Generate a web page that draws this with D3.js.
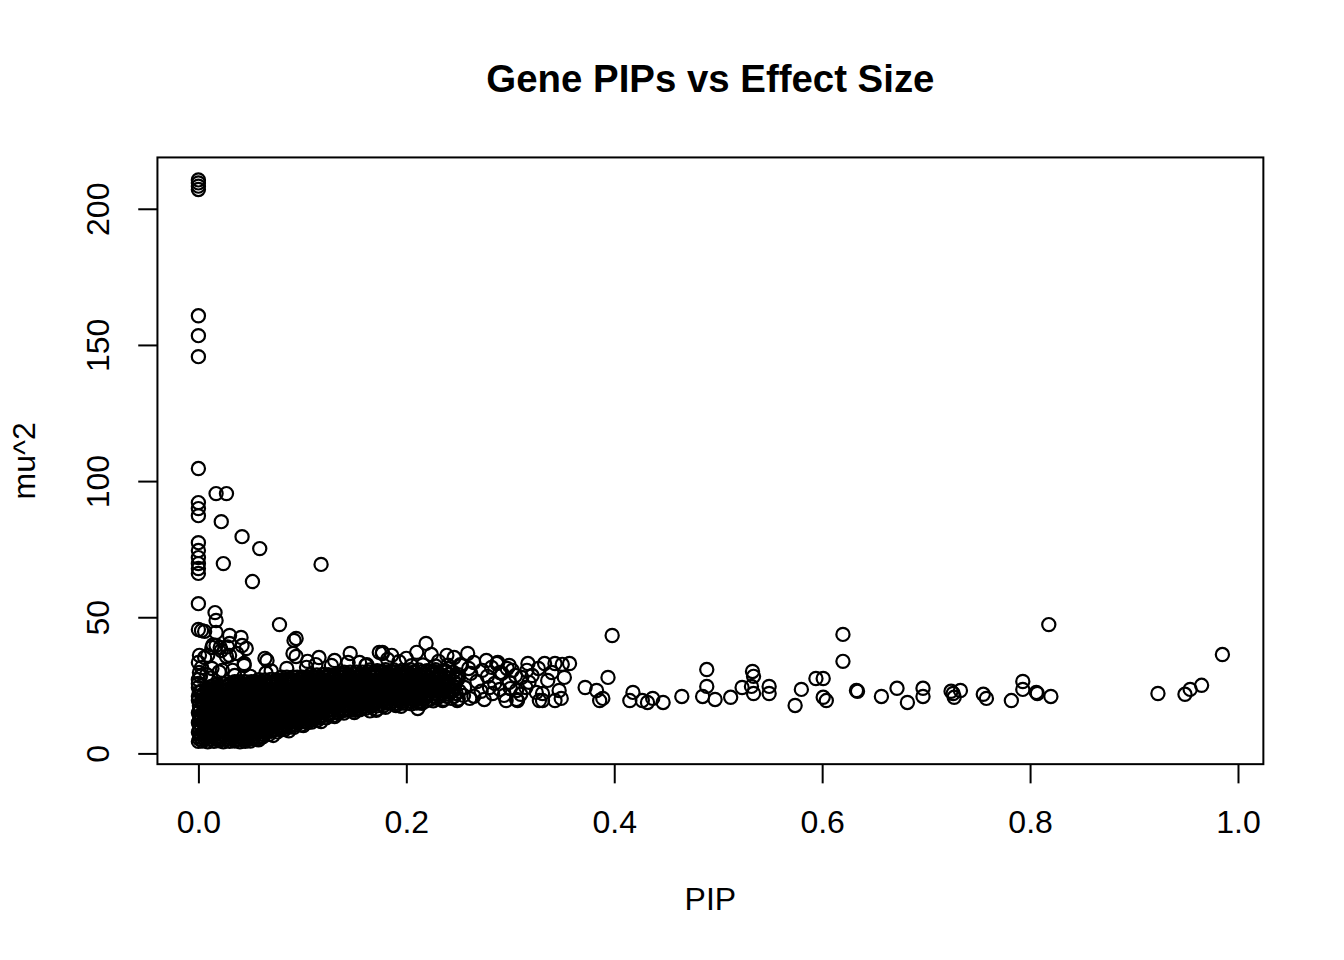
<!DOCTYPE html>
<html>
<head>
<meta charset="utf-8">
<script src="https://cdn.jsdelivr.net/npm/d3@7"></script>
<style>
  body { margin: 0; background: #fff; }
  svg text { font-family: "Liberation Sans", Arial, Helvetica, sans-serif; fill: #000; }
</style>
</head>
<body>
<svg id="chart" width="1344" height="960"></svg>
<script>
// [PIP, mu^2] pairs

// genes with PIP ~ 0 and a huge effect
var highZero = [
  [0,210.6],[0,209.5],[0,208.3],[0,207.1],[0,160.7],[0,153.4],[0,145.7],[0,104.6],
  [.017,95.4],[.027,95.4],[0,92.1],[0,89.9],[0,87.3],[.022,85.1],[.042,79.6],[.059,75.2],
  [0,77.4],[0,74.5],[0,71.9],[0,69.7],[0,67.9],[0,66.1],[.024,69.7],[.118,69.4],[.052,63.1],
  [0,55.0],[.016,51.7],[.017,48.8],[.078,47.3]
];

// the solid cloud, read as rows of mu^2
var denseCore = [
  [0,4.4],[.004,4.5],[.009,4.3],[.015,4.4],[.02,4.6],[.024,4.3],[.03,4.4],[.035,4.5],[.04,4.3],[.045,4.4],[.05,4.5],
  [.002,6.0],[.007,6.2],[.012,6.1],[.018,5.9],[.022,6.3],[.027,6.0],[.033,6.1],[.038,6.2],[.042,5.9],[.047,6.1],[.053,6.2],[.058,6.0],[.062,6.1],
  [0,7.8],[.005,8.0],[.01,7.9],[.016,7.7],[.02,8.1],[.025,7.9],[.031,7.8],[.035,8.0],[.04,7.9],[.046,8.1],[.05,7.8],[.055,7.9],[.061,8.0],[.065,7.8],[.07,8.1],[.076,7.9],
  [.003,9.6],[.007,9.4],[.012,9.7],[.017,9.6],[.023,9.5],[.027,9.8],[.032,9.6],[.037,9.4],[.043,9.7],[.047,9.6],[.052,9.5],[.057,9.7],[.063,9.6],[.067,9.4],[.072,9.8],[.078,9.6],[.082,9.5],[.087,9.7],[.092,9.6],
  [0,11.3],[.005,11.5],[.01,11.4],[.015,11.2],[.021,11.5],[.025,11.4],[.03,11.6],[.035,11.3],[.04,11.4],[.046,11.5],[.05,11.3],[.055,11.4],[.06,11.6],[.066,11.4],[.07,11.2],[.075,11.5],[.08,11.4],[.086,11.3],[.09,11.5],[.095,11.4],[.1,11.6],[.105,11.3],[.109,11.5],
  [.002,13.1],[.008,13.0],[.012,13.2],[.017,13.1],[.022,12.9],[.028,13.2],[.032,13.1],[.037,13.0],[.042,13.3],[.048,13.1],[.052,12.9],[.057,13.2],[.062,13.1],[.068,13.0],[.072,13.2],[.077,13.1],[.082,12.9],[.088,13.2],[.092,13.1],[.097,13.0],[.102,13.3],[.108,13.1],[.112,12.9],[.117,13.2],[.123,13.1],
  [0,14.9],[.005,14.7],[.01,15.0],[.015,14.9],[.02,14.8],[.026,15.0],[.03,14.9],[.035,14.7],[.04,15.1],[.045,14.9],[.05,14.8],[.056,15.0],[.06,14.9],[.065,14.7],[.07,15.0],[.075,14.9],[.08,14.8],[.086,15.1],[.09,14.9],[.095,14.7],[.1,15.0],[.105,14.9],[.11,14.8],[.116,15.0],[.12,14.9],[.125,14.7],[.13,15.0],[.135,14.9],[.14,14.8],
  [.002,16.6],[.007,16.4],[.013,16.7],[.017,16.6],[.022,16.5],[.027,16.8],[.032,16.6],[.038,16.4],[.042,16.7],[.047,16.6],[.052,16.5],[.058,16.7],[.062,16.6],[.067,16.4],[.072,16.8],[.077,16.6],[.083,16.5],[.087,16.7],[.092,16.6],[.097,16.4],[.102,16.7],[.107,16.6],[.113,16.5],[.117,16.8],[.122,16.6],[.127,16.4],[.132,16.7],[.137,16.6],[.143,16.5],[.147,16.7],[.152,16.6],[.157,16.4],[.161,16.6],
  [.004,18.4],[.01,18.3],[.015,18.5],[.02,18.4],[.025,18.2],[.03,18.5],[.035,18.4],[.04,18.3],[.046,18.6],[.05,18.4],[.055,18.2],[.06,18.5],[.065,18.4],[.07,18.3],[.076,18.5],[.08,18.4],[.085,18.2],[.09,18.5],[.095,18.4],[.1,18.3],[.106,18.6],[.11,18.4],[.115,18.2],[.12,18.5],[.125,18.4],[.13,18.3],[.136,18.5],[.14,18.4],[.145,18.2],[.15,18.5],[.155,18.4],[.16,18.3],[.166,18.6],[.17,18.4],[.175,18.2],[.18,18.5],[.185,18.4],[.19,18.3],[.196,18.5],[.2,18.4],[.205,18.2],[.21,18.5],[.215,18.4],
  [.007,20.1],[.012,20.0],[.017,20.2],[.022,20.1],[.028,19.9],[.032,20.2],[.037,20.1],[.042,20.0],[.048,20.3],[.052,20.1],[.057,19.9],[.062,20.2],[.067,20.1],[.072,20.0],[.078,20.2],[.082,20.1],[.087,19.9],[.092,20.2],[.097,20.1],[.102,20.0],[.108,20.3],[.112,20.1],[.117,19.9],[.122,20.2],[.127,20.1],[.132,20.0],[.138,20.2],[.142,20.1],[.147,19.9],[.152,20.2],[.157,20.1],[.162,20.0],[.168,20.3],[.172,20.1],[.177,19.9],[.182,20.2],[.187,20.1],[.192,20.0],[.198,20.2],[.202,20.1],[.207,19.9],[.212,20.2],[.217,20.1],[.223,20.0],[.229,20.2],[.236,19.9],[.243,20.2],[.25,20.0],
  [.005,21.9],[.01,21.8],[.015,22.0],[.02,21.9],[.025,21.7],[.03,22.0],[.035,21.9],[.04,21.8],[.046,22.1],[.05,21.9],[.055,21.7],[.06,22.0],[.065,21.9],[.07,21.8],[.076,22.0],[.08,21.9],[.085,21.7],[.09,22.0],[.095,21.9],[.1,21.8],[.106,22.1],[.11,21.9],[.115,21.7],[.12,22.0],[.125,21.9],[.13,21.8],[.136,22.0],[.14,21.9],[.145,21.7],[.15,22.0],[.155,21.9],[.16,21.8],[.166,22.1],[.17,21.9],[.175,21.7],[.18,22.0],[.185,21.9],[.19,21.8],[.196,22.0],[.2,21.9],[.205,21.7],[.21,22.0],[.215,21.9],[.221,21.8],[.228,22.1],[.234,21.9],[.241,21.7],[.248,22.0],
  [.008,23.6],[.012,23.5],[.017,23.7],[.022,23.6],[.028,23.4],[.032,23.7],[.037,23.6],[.042,23.5],[.048,23.8],[.052,23.6],[.057,23.4],[.062,23.7],[.067,23.6],[.072,23.5],[.078,23.7],[.082,23.6],[.087,23.4],[.092,23.7],[.097,23.6],[.102,23.5],[.108,23.8],[.112,23.6],[.117,23.4],[.122,23.7],[.127,23.6],[.132,23.5],[.138,23.7],[.142,23.6],[.147,23.4],[.152,23.7],[.157,23.6],[.162,23.5],[.168,23.8],[.172,23.6],[.177,23.4],[.182,23.7],[.187,23.6],[.192,23.5],[.198,23.7],[.202,23.6],[.207,23.4],[.212,23.7],[.218,23.6],[.225,23.5],[.231,23.8],[.238,23.6],[.246,23.4],
  [.018,25.3],[.024,25.5],[.03,25.4],[.035,25.2],[.04,25.5],[.046,25.4],[.05,25.3],[.055,25.6],[.06,25.4],[.065,25.2],[.07,25.5],[.075,25.4],[.08,25.3],[.086,25.5],[.09,25.4],[.095,25.2],[.1,25.5],[.105,25.4],[.11,25.3],[.116,25.6],[.12,25.4],[.125,25.2],[.13,25.5],[.135,25.4],[.14,25.3],[.146,25.5],[.15,25.4],[.155,25.2],[.16,25.5],[.165,25.4],[.17,25.3],[.176,25.6],[.18,25.4],[.185,25.2],[.19,25.5],[.195,25.4],[.2,25.3],[.206,25.5],[.211,25.4],[.217,25.2],[.224,25.5],[.232,25.4],[.24,25.3],[.247,25.5],
  [.058,27.1],[.064,27.0],[.07,27.2],[.075,27.1],[.08,26.9],[.085,27.2],[.09,27.1],[.096,27.0],[.1,27.3],[.105,27.1],[.11,26.9],[.115,27.2],[.12,27.1],[.126,27.0],[.13,27.2],[.135,27.1],[.14,26.9],[.145,27.2],[.15,27.1],[.156,27.0],[.16,27.3],[.165,27.1],[.17,26.9],[.175,27.2],[.18,27.1],[.186,27.0],[.19,27.2],[.195,27.1],[.2,26.9],[.206,27.2],[.212,27.1],[.219,27.0],[.227,27.2],[.234,27.0],[.241,27.3],[.249,27.1],
  [.108,28.9],[.114,28.8],[.12,29.0],[.125,28.9],[.13,28.7],[.136,29.0],[.14,28.9],[.145,28.8],[.15,29.1],[.156,28.9],[.16,28.7],[.165,29.0],[.17,28.9],[.176,28.8],[.18,29.0],[.185,28.9],[.19,28.7],[.196,29.0],[.2,28.9],[.206,28.8],[.212,29.0],[.219,28.9],[.226,29.0],[.233,28.8],[.241,29.1],[.25,28.9],
  [.165,30.6],[.172,30.4],[.18,30.7],[.188,30.6],[.196,30.5],[.204,30.7],[.212,30.6],[.22,30.4],[.228,30.7],[.237,30.5],
  [.205,32.2],[.216,32.5],[.228,32.1],[.24,32.4],[.252,32.6]
];

// more of the cloud, between the rows above: one mu^2 per row, then its PIPs
var coreRowMu = [5.3, 7.0, 8.8, 10.5, 12.3, 14.0, 15.8, 17.5, 19.3, 21.0, 22.8, 24.5, 26.3, 28.0, 29.8];
var coreRowPips = [
  [.001,.006,.011,.017,.021,.027,.032,.036,.043,.047,.052,.056],
  [.002,.008,.013,.017,.023,.028,.033,.039,.043,.048,.054,.059,.063,.068],
  [.001,.006,.012,.017,.022,.028,.032,.038,.044,.048,.053,.059,.064,.068,.074,.079,.083],
  [.002,.007,.012,.018,.023,.028,.033,.039,.044,.048,.054,.059,.064,.069,.074,.08,.084,.089,.094,.099],
  [.001,.006,.012,.017,.022,.028,.033,.037,.043,.049,.053,.058,.064,.069,.073,.079,.085,.089,.094,.099,.105,.11,.115],
  [.002,.008,.013,.017,.023,.028,.033,.039,.043,.048,.054,.059,.063,.069,.074,.079,.084,.089,.095,.099,.104,.11,.114,.119,.125,.13],
  [.001,.006,.012,.017,.022,.028,.032,.038,.043,.048,.053,.059,.064,.068,.073,.079,.084,.089,.094,.1,.104,.109,.115,.12,.125,.13,.135,.141,.146,.151],
  [.001,.005,.011,.015,.02,.026,.03,.034,.04,.045,.05,.056,.06,.064,.07,.075,.08,.086,.09,.094,.1,.105,.11,.116,.12,.124,.13,.135,.14,.146,.15,.154,.16,.166,.172,.178],
  [.003,.008,.013,.018,.022,.028,.033,.038,.043,.047,.053,.058,.063,.068,.072,.078,.083,.088,.093,.097,.103,.108,.113,.118,.122,.128,.133,.138,.143,.147,.153,.158,.163,.168,.172,.178,.183,.188,.193,.197,.203,.208,.213,.219,.226],
  [.004,.009,.014,.019,.024,.03,.034,.039,.044,.049,.054,.06,.064,.069,.074,.079,.084,.09,.094,.099,.104,.109,.114,.12,.124,.129,.134,.139,.144,.15,.154,.159,.164,.169,.174,.18,.184,.189,.194,.199,.204,.21,.214,.22,.226,.232,.239,.246],
  [.003,.008,.013,.018,.023,.027,.033,.038,.043,.048,.053,.057,.063,.068,.073,.078,.083,.087,.093,.098,.103,.108,.113,.117,.123,.128,.133,.138,.143,.147,.153,.158,.163,.168,.173,.177,.183,.188,.193,.198,.203,.207,.213,.218,.224,.231,.237,.244,.251],
  [.012,.017,.022,.027,.033,.038,.042,.047,.053,.058,.062,.067,.073,.078,.082,.087,.093,.098,.102,.107,.113,.118,.122,.127,.133,.138,.142,.147,.153,.158,.162,.167,.173,.178,.182,.187,.193,.198,.202,.207,.212,.218,.225,.232,.239,.246],
  [.035,.04,.045,.051,.055,.06,.065,.071,.075,.08,.085,.091,.095,.1,.105,.111,.115,.12,.125,.131,.135,.14,.145,.151,.155,.16,.165,.171,.175,.18,.185,.191,.195,.2,.205,.21,.217,.224,.231,.238,.246],
  [.08,.085,.091,.095,.1,.106,.11,.115,.121,.125,.13,.136,.14,.145,.151,.155,.16,.166,.17,.175,.181,.185,.19,.196,.2,.205,.211,.215,.222,.23,.238,.247],
  [.14,.146,.152,.158,.164,.17,.176,.182,.188,.194,.2,.207,.214,.221,.229,.237,.245]
];

// loose circles round the edge of the cloud
var coreFringe = [
  [0,45.5],[.003,45.1],[.006,44.8],[.017,44.4],[.03,43.3],[.041,42.6],[.094,42.2],[.046,38.5],[.03,40.4],[.017,39.6],
  [.013,38.9],[.022,37.8],[.03,36.0],[.037,36.7],[.009,36.0],[.001,36.0],[0,33.4],[.013,31.2],[.023,30.5],[.033,30.5],
  [.044,32.3],[.066,34.1],[.091,36.7],[.092,41.5],[.116,35.2],[.131,34.1],[.105,33.8],[.146,36.7],[.174,37.1],[.155,33.4],
  [.162,32.6],[.014,39.8],[.021,38.9],[.028,39.1],[.042,39.6],[.006,35.2],[.027,35.6],[.044,33.0],[.064,34.9],[.094,35.6],
  [.104,31.6],[.113,32.6],[.128,32.3],[.144,33.4],[.161,32.3],[.177,36.7],[.182,34.5],[.193,33.7],[.001,29.7],[0,27.1],
  [0,25.7],[0,24.2],[.001,22.6],[0,21.0],[0,19.5],[.002,28.3],[.003,31.5],[.008,28.9],[.012,27.7],[.05,28.3],
  [.035,28.6],[.07,30.3],[.085,31.2],[.065,29.5],[.02,29.9],
  [.058,5.0],[.072,6.6],[.087,8.3],[.101,10.2],[.118,11.7],[.131,13.5],[.15,15.0],[.165,15.6],[.18,16.9],[.195,17.3],
  [.155,16.0],[.172,16.3],[.171,15.8],[.19,17.6],[.211,16.5],[.213,18.7],[.235,19.4],[.249,19.4],[.261,20.2]
];

// thinning out between PIP 0.17 and 0.36
var midSpread = [
  [.177,37.1],[.219,40.4],[.21,37.1],[.186,36.0],[.2,34.9],[.239,36.0],[.246,35.2],[.259,36.7],[.265,33.4],[.282,31.6],
  [.273,30.5],[.28,24.2],[.283,22.0],[.296,19.4],[.294,21.3],[.299,26.1],[.299,32.3],[.311,27.9],[.317,33.0],[.321,28.6],
  [.318,26.1],[.325,22.4],[.328,19.4],[.331,22.0],[.333,33.0],[.343,33.0],[.35,32.7],[.357,33.0],[.352,27.9],[.347,23.1],
  [.349,20.2],[.343,19.4],[.331,19.4],[.232,28.6],[.241,31.2],[.25,27.5],[.256,24.2],[.262,29.4],[.268,26.4],[.272,22.8],
  [.278,28.3],[.285,25.7],[.29,29.7],[.255,21.3],[.245,23.1],[.265,21.0],[.226,30.1],[.236,26.1],[.29,23.5],[.275,19.8],
  [.3,23.8],[.305,28.6],[.31,21.7],[.297,31.2],[.288,33.4],[.277,34.1],[.253,32.3],[.231,33.8],[.224,36.3],[.26,31.2],
  [.306,19.8],[.315,24.2],[.336,26.8],[.34,29.7],[.327,31.2],[.287,33.0],[.292,29.4],[.302,30.5],[.306,23.1],[.316,30.5],
  [.307,19.4]
];

// sparse genes with high PIP
var tailPoints = [
  [.372,24.2],[.383,23.1],[.386,19.4],[.389,20.2],[.394,27.9],[.398,43.3],[.415,19.4],[.418,22.4],[.427,19.4],[.432,18.7],
  [.437,20.2],[.447,18.7],[.465,20.9],[.489,30.8],[.489,24.6],[.485,20.9],[.497,19.8],[.512,20.6],[.523,24.2],[.533,30.1],
  [.534,28.3],[.532,24.6],[.534,22.0],[.549,24.6],[.549,22.0],[.574,17.6],[.58,23.5],[.594,27.5],[.601,27.5],[.601,20.6],
  [.604,19.4],[.62,43.7],[.62,33.8],[.633,23.1],[.634,22.8],[.657,20.9],[.672,23.9],[.682,18.7],[.697,23.9],[.697,20.9],
  [.724,22.8],[.726,22.0],[.727,20.6],[.733,23.1],[.755,21.7],[.758,20.2],[.782,19.4],[.793,26.4],[.793,23.5],[.806,22.4],
  [.807,22.0],[.82,20.9],[.818,47.3],[.923,22.0],[.949,21.7],[.954,23.5],[.965,25.0],[.985,36.3]
];

var xTicks = [0, 0.2, 0.4, 0.6, 0.8, 1.0];
var yTicks = [0, 50, 100, 150, 200];

var width = 1344, height = 960;
var lineH = 38.4; // one margin line at 192 dpi
var margin = { top: 4.1 * lineH, right: 2.1 * lineH, bottom: 5.1 * lineH, left: 4.1 * lineH };

var coreRows = [];
coreRowMu.forEach(function(mu, i) {
  coreRowPips[i].forEach(function(p) { coreRows.push([p, mu]); });
});

var allPoints = [].concat(highZero, denseCore, coreRows, coreFringe, midSpread, tailPoints);

// base-graphics style 4% padding on both ends
var pad = function(ext) {
  var r = ext[1] - ext[0];
  return [ext[0] - 0.04 * r, ext[1] + 0.04 * r];
};

var x = d3.scaleLinear()
  .domain(pad(d3.extent(allPoints, function(d) { return d[0]; })))
  .range([margin.left, width - margin.right]);
var y = d3.scaleLinear()
  .domain(pad(d3.extent(allPoints, function(d) { return d[1]; })))
  .range([height - margin.bottom, margin.top]);

var svg = d3.select("#chart");

svg.append("rect")
  .attr("width", width).attr("height", height)
  .attr("fill", "#fff");

// points
svg.append("g")
  .selectAll("circle")
  .data(allPoints)
  .enter()
    .append("circle")
      .attr("cx", function(d) { return x(d[0]); })
      .attr("cy", function(d) { return y(d[1]); })
      .attr("r", 6.6)
      .attr("fill", "none")
      .attr("stroke", "#000")
      .attr("stroke-width", 2.2);

// x axis
var xAxis = svg.append("g")
  .attr("transform", "translate(0," + (height - margin.bottom) + ")")
  .call(d3.axisBottom(x).tickValues(xTicks).tickSize(lineH / 2).tickFormat(d3.format(".1f")));
xAxis.select(".domain").remove();
xAxis.selectAll(".tick line").attr("stroke", "#000").attr("stroke-width", 2);
xAxis.selectAll(".tick text")
  .attr("font-size", 32)
  .attr("font-family", null)
  .attr("y", 68.8)
  .attr("dy", null);

// y axis, labels parallel to the axis
var yAxis = svg.append("g")
  .attr("transform", "translate(" + margin.left + ",0)")
  .call(d3.axisLeft(y).tickValues(yTicks).tickSize(lineH / 2));
yAxis.select(".domain").remove();
yAxis.selectAll(".tick line").attr("stroke", "#000").attr("stroke-width", 2);
yAxis.selectAll(".tick text")
  .attr("font-size", 32)
  .attr("font-family", null)
  .attr("text-anchor", "middle")
  .attr("transform", "rotate(-90)")
  .attr("x", 0)
  .attr("y", -48.6)
  .attr("dy", null);

// box
svg.append("rect")
  .attr("x", margin.left)
  .attr("y", margin.top)
  .attr("width", width - margin.left - margin.right)
  .attr("height", height - margin.top - margin.bottom)
  .attr("fill", "none")
  .attr("stroke", "#000")
  .attr("stroke-width", 2);

// titles
var midX = (margin.left + width - margin.right) / 2;
var midY = (margin.top + height - margin.bottom) / 2;

svg.append("text")
  .attr("x", midX)
  .attr("y", 92)
  .attr("text-anchor", "middle")
  .attr("font-size", 38.4)
  .attr("font-weight", "bold")
  .text("Gene PIPs vs Effect Size");

svg.append("text")
  .attr("x", midX)
  .attr("y", 910)
  .attr("text-anchor", "middle")
  .attr("font-size", 32)
  .text("PIP");

svg.append("text")
  .attr("transform", "translate(35," + midY + ")rotate(-90)")
  .attr("text-anchor", "middle")
  .attr("font-size", 32)
  .text("mu^2");
</script>
</body>
</html>
